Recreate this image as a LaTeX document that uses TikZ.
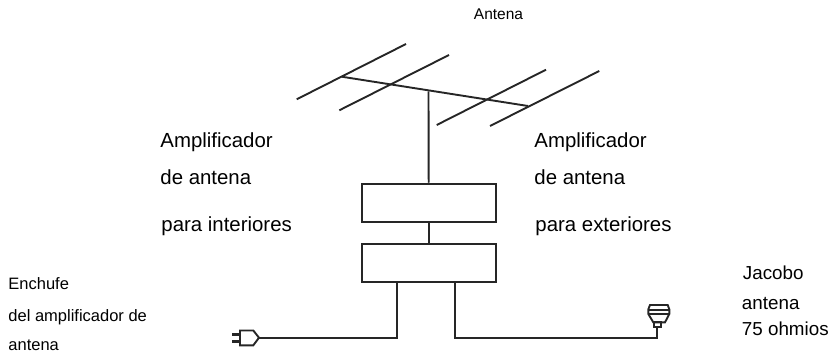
\documentclass[tikz,border=0pt]{standalone}
\usepackage{fontspec}
\setmainfont{Liberation Sans}
\usetikzlibrary{positioning}
\begin{document}
\begin{tikzpicture}[x=1pt, y=-1pt, line width = 1.9pt, line join = miter,
    color = black!85,
    amplifier/.style={
    	rectangle, minimum width = 134pt, minimum height = 38pt, inner sep = 0pt,
    	line width = 1.9pt, draw = black!85, fill = white},
    caption/.style={
    	anchor = base west, inner sep = 0pt, text = black, font = \fontsize{20.4}{20.4}\selectfont},
    jackcaption/.style={
    	caption, font = \fontsize{18.8}{18.8}\selectfont},
    smallcaption/.style={
    	caption, font = \fontsize{16.5}{16.5}\selectfont}]
    	\useasboundingbox (0,0) rectangle (834,355);
    	% antenna
    	\coordinate (boomA) at (341.7,76.7);
    	\coordinate (boomB) at (528,106);
    	\coordinate (mastTop) at (428.5,91.5);
    	\coordinate (dipAl) at (296.7,99.3);
    	\coordinate (dipAr) at (406,44);
    	\coordinate (dipBl) at (339.3,110.3);
    	\coordinate (dipBr) at (449,55);
    	\coordinate (dipCl) at (436.7,125);
    	\coordinate (dipCr) at (546,69.7);
    	\coordinate (dipDl) at (490,126);
    	\coordinate (dipDr) at (599.3,71);
    	\draw (dipAl) -- (dipAr);
    	\draw (dipBl) -- (dipBr);
    	\draw (dipCl) -- (dipCr);
    	\draw (dipDl) -- (dipDr);
    	\draw (boomA) -- (boomB);
    	% amplifiers
    	\node (ampIn) [amplifier] at (428.7,202.7) {};
    	\node (ampOut) [amplifier, below=20pt of ampIn] {};
    	\draw (mastTop) -- (ampIn.north);
    	\draw (ampIn) -- (ampOut);
    	% cables
    	\coordinate (plugTip) at (259,337.7);
    	\coordinate (jackFoot) at (657.3,326.7);
    	\draw (ampOut.south -| 397.3,0) |- (plugTip);
    	\draw (ampOut.south -| 455,0) -- (455,337.7) -| (jackFoot);
    	% plug
    	\draw (plugTip) -- (253.3,345.3) -- (240,345.3) -- (240,330.5) -- (253.3,330.5) -- cycle;
    	\draw[line width = 2.4pt] (240,334.3) -- (232.3,334.3);
    	\draw[line width = 2.4pt] (240,341.3) -- (232.3,341.3);
    	% jack
    	\draw (jackFoot) -- (654.3,326.7) -- (654.3,322.3) -- (660.7,322.3) -- (660.7,326.7) -- cycle;
    	\draw (650,305) -- (667.7,305) -- (669.3,309.3) -- (669.3,314) -- (665,322.3)
    		-- (653.3,322.3) -- (648.3,314) -- (648.3,309.3) -- cycle;
    	\draw (648.3,309.8) -- (669.3,309.8);
    	\draw (648.3,314) -- (669.3,314);
    	% labels
    	\node (antena) [caption, font = \fontsize{15.5}{15.5}\selectfont] at (473,20) {Antena};
    	\node (inA) [caption] at (159.5,147.7) {Amplificador};
    	\node (inB) [caption] at (159.5,185) {de antena};
    	\node (inC) [caption] at (160.5,231) {para interiores};
    	\node (outA) [caption] at (533.5,147.7) {Amplificador};
    	\node (outB) [caption] at (533.5,185) {de antena};
    	\node (outC) [caption] at (534.5,231) {para exteriores};
    	\node (plugA) [smallcaption] at (7.5,289) {Enchufe};
    	\node (plugB) [smallcaption] at (7.5,321.7) {del amplificador de};
    	\node (plugC) [smallcaption] at (7.5,350) {antena};
    	\node (jackA) [jackcaption] at (742,279) {Jacobo};
    	\node (jackB) [jackcaption] at (741,309) {antena};
    	\node (jackC) [jackcaption] at (741,335) {75 ohmios};
	\end{tikzpicture}
\end{document}
